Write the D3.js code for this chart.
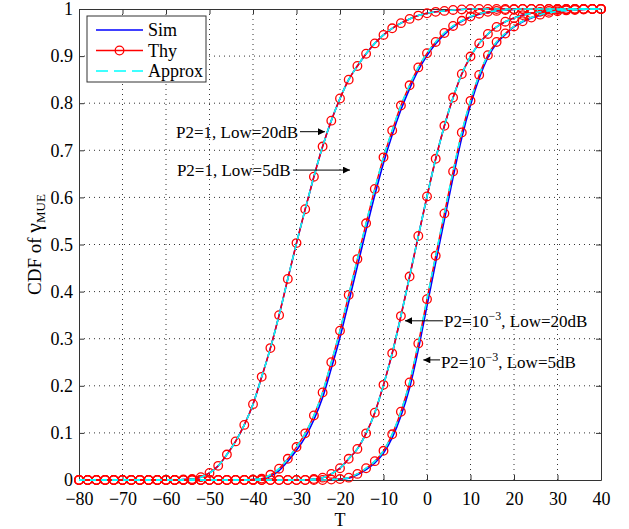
<!DOCTYPE html>
<html>
<head>
<meta charset="utf-8">
<script src="https://cdn.jsdelivr.net/npm/d3@7"></script>
<style>
    body { margin: 0; background: #fff; }
    svg { display: block; font-family: "Liberation Serif", "Times New Roman", serif; }
    .axis text { font-family: "Liberation Serif", "Times New Roman", serif; font-size: 18px; fill: #000; }
    .axis path, .axis line { stroke: #333; }
    .grid line { stroke: #333; stroke-dasharray: 1,4; }
</style>
</head>
<body>
<div id="chart"></div>
<script>

// T axis values (dB)
const tValues = [-80,-78,-76,-74,-72,-70,-68,-66,-64,-62,-60,-58,-56,-54,-52,-50,-48,-46,-44,-42,
    -40,-38,-36,-34,-32,-30,-28,-26,-24,-22,-20,-18,-16,-14,-12,-10,-8,-6,-4,-2,
    0,2,4,6,8,10,12,14,16,18,20,22,24,26,28,30,32,34,36,38,40];

// P2=1, Low=20dB (theory)
const thyP1L20 = [0,0,0,0,0,0,0,0,0,0,0,0,0.001,0.002,0.006,0.015,0.03,0.054,0.082,0.117,
    0.161,0.219,0.28,0.35,0.427,0.503,0.575,0.644,0.708,0.763,0.81,0.85,0.879,0.905,0.927,0.945,0.959,0.97,0.979,0.986,
    0.991,0.994,0.996,0.998,0.999,1,1,1,1,1,1,1,1,1,1,1,1,1,1,1,1];

// P2=1, Low=5dB
const thyP1L5 = [0,0,0,0,0,0,0,0,0,0,0,0,0,0,0,0,0,0,0,0,
    0.001,0.003,0.011,0.024,0.045,0.07,0.099,0.137,0.186,0.25,0.317,0.393,0.469,0.545,0.618,0.685,0.742,0.795,0.838,0.876,
    0.906,0.93,0.949,0.964,0.975,0.984,0.99,0.994,0.996,0.998,0.999,1,1,1,1,1,1,1,1,1,1];
const simP1L5 = [0,0,0,0,0,0,0,0,0,0,0,0,0,0,0,0,0,0,0,0,
    0.001,0.002,0.008,0.02,0.04,0.063,0.091,0.128,0.175,0.237,0.303,0.378,0.454,0.531,0.605,0.673,0.733,0.786,0.831,0.87,
    0.901,0.926,0.946,0.962,0.974,0.983,0.989,0.993,0.996,0.998,0.999,1,1,1,1,1,1,1,1,1,1];

// P2=1e-3, Low=20dB
const thyP3L20 = [0,0,0,0,0,0,0,0,0,0,0,0,0,0,0,0,0,0,0,0,
    0,0,0,0,0,0,0,0.002,0.005,0.013,0.025,0.045,0.066,0.099,0.143,0.202,0.269,0.348,0.432,0.518,
    0.602,0.682,0.752,0.812,0.862,0.899,0.927,0.947,0.962,0.973,0.981,0.987,0.991,0.994,0.996,0.998,0.999,1,1,1,1];

// P2=1e-3, Low=5dB
const thyP3L5 = [0,0,0,0,0,0,0,0,0,0,0,0,0,0,0,0,0,0,0,0,
    0,0,0,0,0,0,0,0,0,0.001,0.002,0.005,0.013,0.025,0.04,0.062,0.097,0.145,0.207,0.29,
    0.384,0.476,0.566,0.655,0.738,0.805,0.86,0.902,0.93,0.948,0.963,0.974,0.982,0.988,0.992,0.995,0.997,0.998,0.999,1,1];
const simP3L5 = [0,0,0,0,0,0,0,0,0,0,0,0,0,0,0,0,0,0,0,0,
    0,0,0,0,0,0,0,0,0,0.001,0.002,0.004,0.011,0.022,0.036,0.057,0.09,0.136,0.196,0.277,
    0.37,0.462,0.553,0.643,0.727,0.796,0.853,0.897,0.927,0.946,0.962,0.973,0.981,0.987,0.992,0.995,0.997,0.998,0.999,1,1];

const xTicks = [-80,-70,-60,-50,-40,-30,-20,-10,0,10,20,30,40];
const yTicks = [0,0.1,0.2,0.3,0.4,0.5,0.6,0.7,0.8,0.9,1];

const seriesNames = ["Sim", "Thy", "Approx"];

// annotation: label parts, text anchor (T, CDF), arrow start and tip (T, CDF)
const annotations = [
    {parts: ["P2=1, Low=20dB"], text: [-57.7, 0.7395], from: [-29.2, 0.7395], to: [-23.45, 0.7395]},
    {parts: ["P2=1, Low=5dB"], text: [-57.5, 0.658], from: [-30.8, 0.658], to: [-17.7, 0.658]},
    {parts: ["P2=10", "\u22123", ", Low=20dB"], text: [3.9, 0.3376], from: [3.68, 0.338], to: [-5.06, 0.338]},
    {parts: ["P2=10", "\u22123", ", Low=5dB"], text: [3.2, 0.2505], from: [2.99, 0.255], to: [-0.85, 0.255]}
];

const curves = [
    {sim: thyP1L20, thy: thyP1L20, approx: thyP1L20},
    {sim: simP1L5, thy: thyP1L5, approx: thyP1L5},
    {sim: thyP3L20, thy: thyP3L20, approx: thyP3L20},
    {sim: simP3L5, thy: thyP3L5, approx: thyP3L5}
];


let margin = {top: 9, right: 28, bottom: 49, left: 79};
let width = 629 - margin.left - margin.right;
let height = 529 - margin.top - margin.bottom;

let svg = d3.select("#chart").append("svg")
    .attr("width", 629)
    .attr("height", 529);

svg.append("defs").append("marker")
    .attr("id", "arrow")
    .attr("viewBox", "0 0 10 10")
    .attr("refX", 10)
    .attr("refY", 5)
    .attr("markerUnits", "userSpaceOnUse")
    .attr("markerWidth", 11)
    .attr("markerHeight", 7)
    .attr("orient", "auto")
    .append("path")
    .attr("d", "M0,0L10,5L0,10Z")
    .attr("fill", "#000");

let g = svg.append("g")
    .attr("transform", "translate(" + margin.left + "," + margin.top + ")");

// scales
let x = d3.scaleLinear().domain([-80, 40]).range([0, width]);
let y = d3.scaleLinear().domain([0, 1]).range([height, 0]);

// grid
g.append("g").attr("class", "grid")
    .selectAll("line").data(xTicks.slice(1, -1)).join("line")
    .attr("x1", d => x(d)).attr("x2", d => x(d))
    .attr("y1", 0).attr("y2", height);
g.append("g").attr("class", "grid")
    .selectAll("line").data(yTicks.slice(1, -1)).join("line")
    .attr("y1", d => y(d)).attr("y2", d => y(d))
    .attr("x1", 0).attr("x2", width);

// axes (MATLAB style box, ticks inside)
g.append("g").attr("class", "axis")
    .attr("transform", "translate(0," + height + ")")
    .call(d3.axisBottom(x).tickValues(xTicks).tickSizeInner(-5).tickSizeOuter(0).tickPadding(12));
g.append("g").attr("class", "axis")
    .call(d3.axisLeft(y).tickValues(yTicks).tickSizeInner(-5).tickSizeOuter(0).tickPadding(6)
        .tickFormat(d3.format(".1~f")));
g.append("g").attr("class", "axis")
    .call(d3.axisTop(x).tickValues(xTicks).tickSizeInner(-5).tickSizeOuter(0).tickFormat(""));
g.append("g").attr("class", "axis")
    .attr("transform", "translate(" + width + ",0)")
    .call(d3.axisRight(y).tickValues(yTicks).tickSizeInner(-5).tickSizeOuter(0).tickFormat(""));

// drop d3's default sans-serif on the axis groups
g.selectAll(".axis").attr("font-family", null).attr("font-size", null);

// curves
let line = d3.line()
    .x((d, i) => x(tValues[i]))
    .y(d => y(d))
    .curve(d3.curveMonotoneX);

let plot = g.append("g");

plot.selectAll("path.sim").data(curves).join("path")
    .attr("class", "sim")
    .attr("d", d => line(d.sim))
    .attr("fill", "none")
    .attr("stroke", "#0000ff")
    .attr("stroke-width", 1.6);

plot.selectAll("path.thy").data(curves).join("path")
    .attr("class", "thy")
    .attr("d", d => line(d.thy))
    .attr("fill", "none")
    .attr("stroke", "#ff0000")
    .attr("stroke-width", 1.4);

curves.forEach(c => {
    plot.append("g").selectAll("circle").data(c.thy).join("circle")
        .attr("cx", (d, i) => x(tValues[i]))
        .attr("cy", d => y(d))
        .attr("r", 4.3)
        .attr("fill", "none")
        .attr("stroke", "#ff0000")
        .attr("stroke-width", 1.3);
});

plot.selectAll("path.approx").data(curves).join("path")
    .attr("class", "approx")
    .attr("d", d => line(d.approx))
    .attr("fill", "none")
    .attr("stroke", "#00ffff")
    .attr("stroke-width", 1.6)
    .attr("stroke-dasharray", "6,5");

// annotations
annotations.forEach(a => {
    g.append("line")
        .attr("x1", x(a.from[0])).attr("y1", y(a.from[1]))
        .attr("x2", x(a.to[0])).attr("y2", y(a.to[1]))
        .attr("stroke", "#000")
        .attr("stroke-width", 1)
        .attr("marker-end", "url(#arrow)");

    let t = g.append("text")
        .attr("x", x(a.text[0]))
        .attr("y", y(a.text[1]))
        .attr("dy", "0.35em")
        .attr("font-size", 17);
    t.append("tspan").text(a.parts[0]);
    if (a.parts.length > 1) {
        t.append("tspan").attr("dy", -7).attr("font-size", 12).text(a.parts[1]);
        t.append("tspan").attr("dy", 7).text(a.parts[2]);
    }
});

// legend
let legend = g.append("g").attr("transform", "translate(8,7)");
legend.append("rect")
    .attr("width", 119).attr("height", 66)
    .attr("fill", "#fff").attr("stroke", "#333");

let rows = legend.selectAll("g.row").data(seriesNames).join("g")
    .attr("class", "row")
    .attr("transform", (d, i) => "translate(0," + (14 + i * 20.5) + ")");
rows.append("line")
    .attr("x1", 9).attr("x2", 56)
    .attr("stroke", (d, i) => ["#0000ff", "#ff0000", "#00ffff"][i])
    .attr("stroke-width", 1.6)
    .attr("stroke-dasharray", (d, i) => i === 2 ? "12,6" : null);
rows.filter((d, i) => i === 1).append("circle")
    .attr("cx", 32.5).attr("r", 4.3)
    .attr("fill", "none").attr("stroke", "#ff0000").attr("stroke-width", 1.3);
rows.append("text")
    .attr("x", 61).attr("dy", "0.35em")
    .attr("font-size", 18)
    .text(d => d);

// axis titles
g.append("text")
    .attr("x", width / 2)
    .attr("y", height + 46)
    .attr("text-anchor", "middle")
    .attr("font-size", 18)
    .text("T");

let yl = g.append("text")
    .attr("transform", "translate(-38," + (height / 2) + ") rotate(-90)")
    .attr("text-anchor", "middle")
    .attr("font-size", 19);
yl.append("tspan").text("CDF of ");
yl.append("tspan").attr("font-size", 22).text("\u03b3");
yl.append("tspan").attr("font-size", 13).attr("dy", 4).text("MUE");

</script>
</body>
</html>
